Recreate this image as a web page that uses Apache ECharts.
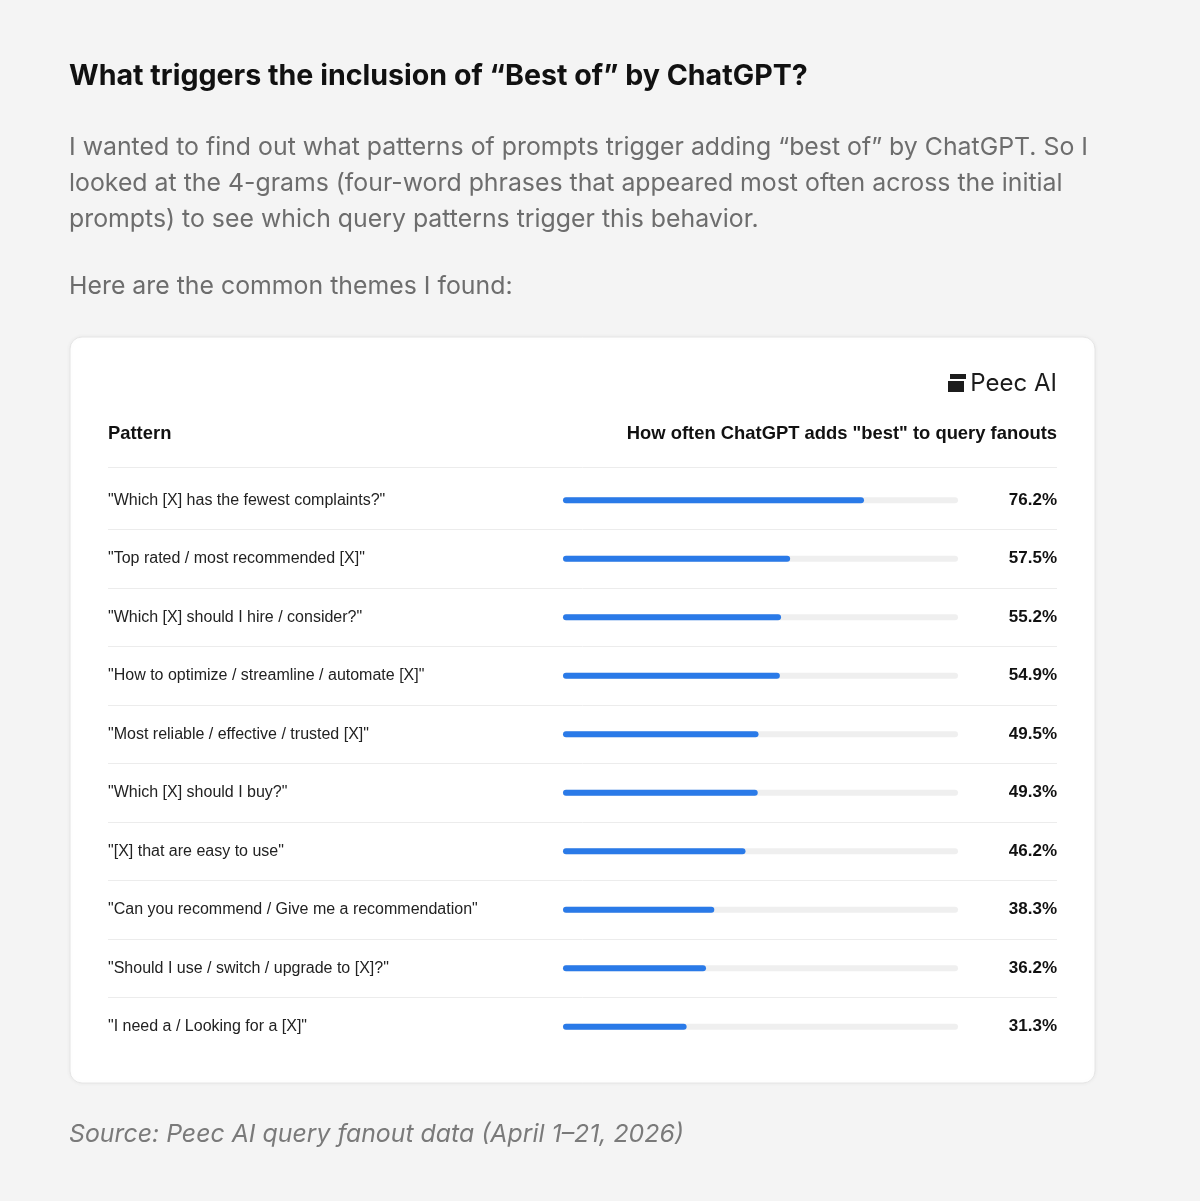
<!DOCTYPE html>
<html>
<head>
<meta charset="utf-8">
<script src="https://cdn.jsdelivr.net/npm/echarts@6/dist/echarts.min.js"></script>
<style>
  html, body { margin: 0; padding: 0; background: #f4f4f4; }
  #chart { width: 1200px; height: 1201px; }
</style>
</head>
<body>
<div id="chart"></div>
<script>
// patterns, top to bottom
const patterns = [
  '"Which [X] has the fewest complaints?"',
  '"Top rated / most recommended [X]"',
  '"Which [X] should I hire / consider?"',
  '"How to optimize / streamline / automate [X]"',
  '"Most reliable / effective / trusted [X]"',
  '"Which [X] should I buy?"',
  '"[X] that are easy to use"',
  '"Can you recommend / Give me a recommendation"',
  '"Should I use / switch / upgrade to [X]?"',
  '"I need a / Looking for a [X]"'
];
// % of fanouts where "best" was added
const bestShare = [76.2, 57.5, 55.2, 54.9, 49.5, 49.3, 46.2, 38.3, 36.2, 31.3];
const trackMax = [100, 100, 100, 100, 100, 100, 100, 100, 100, 100];

const titleText = 'What triggers the inclusion of \u201cBest of\u201d by ChatGPT?';
const introLines = [
  'I wanted to find out what patterns of prompts trigger adding \u201cbest of\u201d by ChatGPT. So I',
  'looked at the 4-grams (four-word phrases that appeared most often across the initial',
  'prompts) to see which query patterns trigger this behavior.'
];
const leadText = 'Here are the common themes I found:';
const sourceText = 'Source: Peec AI query fanout data (April 1\u201321, 2026)';

const outerFont = 'Inter, "Noto Sans", sans-serif';
const cardFont = '"Liberation Sans", Arial, sans-serif';

const chart = echarts.init(document.getElementById('chart'));

const textEl = (text, x, y, font, fill, align) => ({
  type: 'text',
  z: 10,
  style: { text, x, y, font, fill, textAlign: align || 'left', textVerticalAlign: 'middle' }
});

// no line above the first row or below the last one
const lineColors = ['rgba(0,0,0,0)'].concat(patterns.slice(1).map(() => '#ececec'), ['rgba(0,0,0,0)']);

chart.setOption({
  backgroundColor: '#f4f4f4',
  animation: false,
  graphic: [
    {
      type: 'rect', z: 0,
      shape: { x: 70, y: 337, width: 1025, height: 746, r: 12 },
      style: { fill: '#ffffff', stroke: '#e6e6e6', lineWidth: 1, shadowBlur: 4, shadowColor: 'rgba(0,0,0,0.05)' }
    },
    textEl(titleText, 69, 76, 'bold 28.6px ' + outerFont, '#111111'),
    textEl(introLines[0], 69, 148, '24.85px ' + outerFont, '#6d6d6d'),
    textEl(introLines[1], 69, 184, '24.85px ' + outerFont, '#6d6d6d'),
    textEl(introLines[2], 69, 220, '24.85px ' + outerFont, '#6d6d6d'),
    textEl(leadText, 69, 287, '24.85px ' + outerFont, '#6d6d6d'),
    textEl(sourceText, 69, 1135, 'italic 24.85px ' + outerFont, '#7a7a7a'),
    // logo
    { type: 'rect', z: 10, shape: { x: 950, y: 374, width: 16, height: 5 }, style: { fill: '#1c1c1c' } },
    { type: 'rect', z: 10, shape: { x: 948, y: 381, width: 16, height: 11 }, style: { fill: '#1c1c1c' } },
    textEl('Peec AI', 1057, 384, '24px ' + outerFont, '#1c1c1c', 'right'),
    // table header
    textEl('Pattern', 108, 434, 'bold 18.4px ' + cardFont, '#111111'),
    textEl('How often ChatGPT adds "best" to query fanouts', 1057, 434, 'bold 18.4px ' + cardFont, '#111111', 'right'),
    { type: 'line', z: 10, shape: { x1: 108, y1: 467.5, x2: 1057, y2: 467.5 }, style: { stroke: '#ececec', lineWidth: 1 } }
  ],
  grid: [
    { left: 563, right: 242, top: 471, height: 585 },
    { left: 108, right: 143, top: 471, height: 585 }
  ],
  xAxis: [
    { gridIndex: 0, type: 'value', min: 0, max: 100, show: false },
    { gridIndex: 1, type: 'value', min: 0, max: 100, show: false }
  ],
  yAxis: [
    {
      gridIndex: 0, type: 'category', data: patterns, inverse: true,
      axisLine: { show: false }, axisTick: { show: false }, splitLine: { show: false },
      axisLabel: { align: 'left', margin: 455, color: '#222222', fontSize: 16, fontFamily: cardFont }
    },
    {
      gridIndex: 0, type: 'category', data: patterns, inverse: true, position: 'right',
      axisLine: { show: false }, axisTick: { show: false }, splitLine: { show: false },
      axisLabel: {
        align: 'right', margin: 99, color: '#111111', fontSize: 17, fontWeight: 'bold', fontFamily: cardFont,
        formatter: (v, i) => bestShare[i].toFixed(1) + '%'
      }
    },
    {
      gridIndex: 1, type: 'category', data: patterns, inverse: true,
      axisLine: { show: false }, axisTick: { show: false }, axisLabel: { show: false },
      splitLine: { show: true, interval: 0, lineStyle: { color: lineColors, width: 1 } }
    }
  ],
  series: [
    {
      type: 'bar', xAxisIndex: 0, yAxisIndex: 0, data: trackMax,
      barWidth: 6, barGap: '-100%', silent: true,
      itemStyle: { color: '#efefef', borderRadius: 3 }
    },
    {
      type: 'bar', xAxisIndex: 0, yAxisIndex: 0, data: bestShare,
      barWidth: 6, barGap: '-100%',
      itemStyle: { color: '#2a7ae8', borderRadius: 3 }
    }
  ]
});
</script>
</body>
</html>
